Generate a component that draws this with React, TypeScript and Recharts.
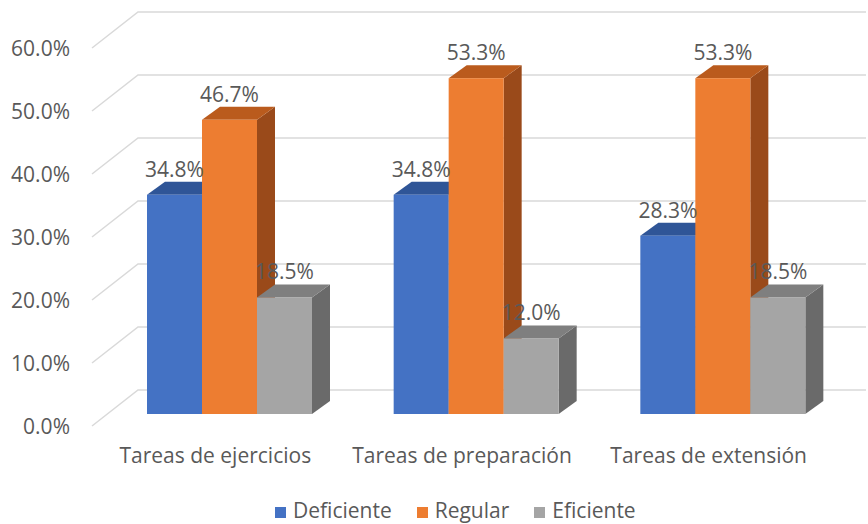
import React from 'react';
import { BarChart, Bar, XAxis, YAxis, CartesianGrid, Legend, LabelList } from 'recharts';

const CATEGORIES = ['Tareas de ejercicios', 'Tareas de preparación', 'Tareas de extensión'];
const DEFICIENTE = [0.348, 0.348, 0.283];
const REGULAR = [0.467, 0.533, 0.533];
const EFICIENTE = [0.185, 0.12, 0.185];
const Y_TICKS = [0, 0.1, 0.2, 0.3, 0.4, 0.5, 0.6];

const SERIES = [
  { key: 'deficiente', name: 'Deficiente', front: '#4472C4', top: '#2F5597', side: '#2B4C86' },
  { key: 'regular', name: 'Regular', front: '#ED7D31', top: '#BA5B1D', side: '#9A4A1A' },
  { key: 'eficiente', name: 'Eficiente', front: '#A5A5A5', top: '#7F7F7F', side: '#6A6A6A' },
];

const data = CATEGORIES.map((name, i) => ({
  name,
  deficiente: DEFICIENTE[i],
  regular: REGULAR[i],
  eficiente: EFICIENTE[i],
}));

const FONT = '"Open Sans", sans-serif';
const TEXT = '#595959';
const FS = 21;
// depth of the bars and of the back wall (3d look)
const BAR_DX = 18;
const BAR_DY = -13;
const WALL_DX = 46;
const WALL_DY = -36;

const pct = (v: number) => `${(v * 100).toFixed(1)}%`;

function make3dBar(s: (typeof SERIES)[number]) {
  return (props: any) => {
    const { x, y, width, height } = props;
    if (width == null || height == null) return null;
    const r = x + width;
    const b = y + height;
    return (
      <g>
        <polygon
          points={`${r},${y} ${r + BAR_DX},${y + BAR_DY} ${r + BAR_DX},${b + BAR_DY} ${r},${b}`}
          fill={s.side}
        />
        <polygon
          points={`${x},${y} ${x + BAR_DX},${y + BAR_DY} ${r + BAR_DX},${y + BAR_DY} ${r},${y}`}
          fill={s.top}
        />
        <rect x={x} y={y} width={width} height={height} fill={s.front} />
      </g>
    );
  };
}

function GridLine(props: any) {
  const { y1, x2 } = props;
  // front edge sits 12px below the bar plane, back wall further up-right
  const fx = 92;
  const fy = y1 + 12;
  return (
    <path
      d={`M${fx},${fy} L${fx + WALL_DX},${fy + WALL_DY} L${x2 + 20},${fy + WALL_DY}`}
      stroke="#D9D9D9"
      strokeWidth={1.5}
      fill="none"
    />
  );
}

function YTick(props: any) {
  const { x, y, payload } = props;
  return (
    <text x={x - 28} y={y + 12} dy={7.5} textAnchor="end" fill={TEXT} fontSize={FS} fontFamily={FONT}>
      {pct(payload.value)}
    </text>
  );
}

function XTick(props: any) {
  const { x, y, payload } = props;
  return (
    <text x={x - 14} y={y} dy={41} textAnchor="middle" fill={TEXT} fontSize={FS} fontFamily={FONT}>
      {payload.value}
    </text>
  );
}

function ValueLabel(props: any) {
  const { x, y, width, value } = props;
  return (
    <text x={x + width / 2} y={y - 18} textAnchor="middle" fill={TEXT} fontSize={FS} fontFamily={FONT}>
      {pct(value)}
    </text>
  );
}

function LegendContent() {
  return (
    <div style={{ display: 'flex', alignItems: 'center', fontFamily: FONT, fontSize: FS, lineHeight: '21px', color: TEXT }}>
      {SERIES.map((s) => (
        <div key={s.key} style={{ display: 'flex', alignItems: 'center', marginRight: 25 }}>
          <span style={{ width: 11, height: 11, background: s.front, marginRight: 7, marginTop: 3, display: 'inline-block' }} />
          <span>{s.name}</span>
        </div>
      ))}
    </div>
  );
}

export default function App() {
  return (
    <div style={{ position: 'absolute', left: 0, top: 0, width: 868, height: 524, background: '#fff' }}>
      <BarChart
        width={868}
        height={524}
        data={data}
        margin={{ top: 36, right: 22, bottom: 80, left: 0 }}
        barGap={0}
      >
        <CartesianGrid vertical={false} horizontal={(p: any) => <GridLine key={p.key} {...p} />} />
        <XAxis dataKey="name" axisLine={false} tickLine={false} height={30} tick={<XTick />} interval={0} />
        <YAxis
          domain={[0, 0.6]}
          ticks={Y_TICKS}
          width={106}
          axisLine={false}
          tickLine={false}
          tick={<YTick />}
        />
        <Legend verticalAlign="middle" wrapperStyle={{ top: 500, left: 275, width: 'auto' }} content={<LegendContent />} />
        {SERIES.map((s) => (
          <Bar key={s.key} dataKey={s.key} name={s.name} barSize={55} shape={make3dBar(s)} isAnimationActive={false}>
            <LabelList dataKey={s.key} content={<ValueLabel />} />
          </Bar>
        ))}
      </BarChart>
    </div>
  );
}
